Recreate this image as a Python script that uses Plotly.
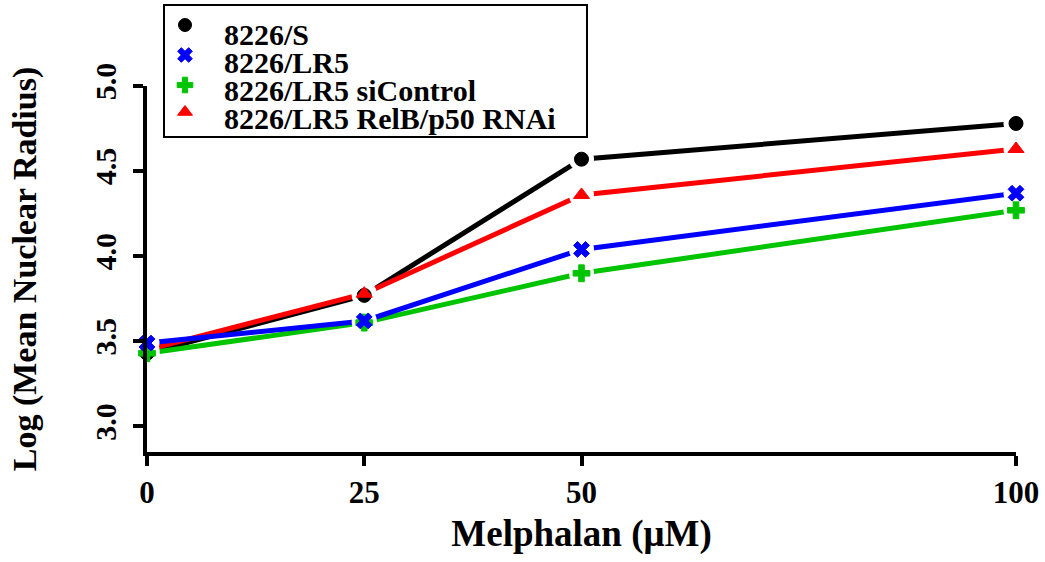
import plotly.graph_objects as go

# Melphalan dose (uM)
dose = [0, 25, 50, 100]

# Log (mean nuclear radius) per cell line
s_8226 = [3.43, 3.77, 4.57, 4.78]
lr5 = [3.49, 3.62, 4.04, 4.37]
lr5_sicontrol = [3.43, 3.61, 3.90, 4.27]
lr5_relb_p50 = [3.45, 3.78, 4.36, 4.63]

names = ["8226/S", "8226/LR5", "8226/LR5 siControl", "8226/LR5 RelB/p50 RNAi"]
values = [s_8226, lr5, lr5_sicontrol, lr5_relb_p50]
colors = ["black", "#0000ff", "#00c400", "#ff0000"]
symbols = ["circle", "x", "cross", "triangle-up"]

font_family = "Liberation Serif"

# layout in pixels (figure 1045 x 562)
W, H = 1045, 562
L, R, T, B = 147, 1016, 86, 452

fig = go.Figure()

# connecting lines
draw_order = [0, 3, 2, 1]
for i in draw_order:
    fig.add_trace(go.Scatter(
        x=dose, y=values[i], mode="lines", line=dict(color=colors[i], width=5),
        showlegend=False, hoverinfo="skip", cliponaxis=False,
    ))

# white halo under each marker, leaving a small gap in the line
for i in draw_order:
    fig.add_trace(go.Scatter(
        x=dose, y=values[i], mode="markers",
        marker=dict(symbol="circle", color="white", size=25),
        showlegend=False, hoverinfo="skip", cliponaxis=False,
    ))

# markers
for i in draw_order:
    fig.add_trace(go.Scatter(
        x=dose, y=values[i], mode="markers", name=names[i],
        marker=dict(symbol=symbols[i], color=colors[i], size=14,
                    line=dict(color=colors[i], width=1)),
        showlegend=False, cliponaxis=False,
    ))

# key drawn on a hidden pixel-space subplot spanning the top of the figure
row_text_y = [34, 62, 90, 118]
row_mark_y = [25, 55, 85, 112]
fig.add_trace(go.Scatter(
    x=[185] * len(names), y=row_mark_y, mode="markers",
    marker=dict(symbol=symbols, color=colors, size=13,
                line=dict(color=colors, width=1)),
    xaxis="x2", yaxis="y2", showlegend=False, hoverinfo="skip", cliponaxis=False,
))

annotations = []
for name, ty in zip(names, row_text_y):
    annotations.append(dict(
        text=name, x=222, y=ty, xref="x2", yref="y2",
        xanchor="left", yanchor="middle", showarrow=False,
        font=dict(family=font_family, size=30, color="black", weight="bold"),
    ))

shapes = [dict(
    type="rect", xref="x2", yref="y2", x0=164, x1=587, y0=5, y1=137,
    line=dict(color="black", width=2), fillcolor="rgba(0,0,0,0)", layer="above",
)]

fig.update_layout(
    width=W, height=H,
    margin=dict(l=L, r=W - R, t=0, b=H - B),
    paper_bgcolor="white", plot_bgcolor="rgba(0,0,0,0)",
    font=dict(family=font_family, color="black"),
    showlegend=False,
    annotations=annotations,
    shapes=shapes,
    xaxis=dict(
        range=[0, 100], tickvals=dose, ticktext=["0", "25", "50", "100"],
        showgrid=False, zeroline=False, showline=True, linecolor="black", linewidth=4,
        ticks="outside", ticklen=10, tickwidth=4, tickcolor="black",
        tickfont=dict(family=font_family, size=31, weight="bold"),
        automargin=False,
        title=dict(text="Melphalan (μM)", font=dict(family=font_family, size=37, weight="bold"),
                   standoff=12),
    ),
    yaxis=dict(
        domain=[0, (B - T) / B],
        range=[2.85, 5.0], tickvals=[3.0, 3.5, 4.0, 4.5, 5.0],
        ticktext=["3.0", "3.5", "4.0", "4.5", "5.0"], tickangle=-90,
        showgrid=False, zeroline=False, showline=True, linecolor="black", linewidth=4,
        ticks="outside", ticklen=10, tickwidth=4, tickcolor="black",
        ticklabelstandoff=5, automargin=False,
        tickfont=dict(family=font_family, size=30, weight="bold"),
        title=dict(text="Log (Mean Nuclear Radius)",
                   font=dict(family=font_family, size=34, weight="bold"), standoff=43),
    ),
    xaxis2=dict(domain=[0, 1], range=[L, R], anchor="y2", visible=False, fixedrange=True),
    yaxis2=dict(domain=[0, 1], range=[B, 0], anchor="x2", visible=False, fixedrange=True),
)

fig.write_html("out.html")
